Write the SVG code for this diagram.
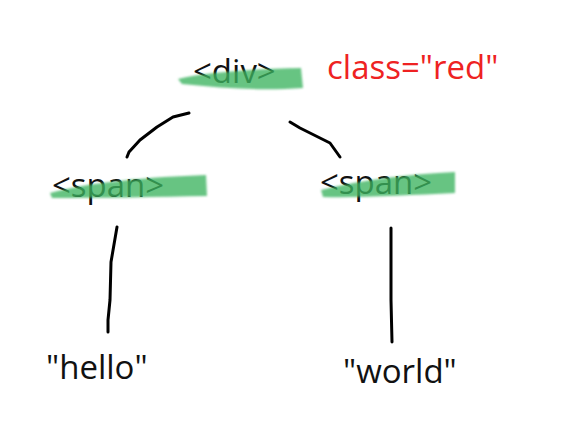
<svg xmlns="http://www.w3.org/2000/svg" width="581" height="445" viewBox="0 0 581 445">
<defs>
<filter id="soft" x="-5%" y="-30%" width="110%" height="160%"><feGaussianBlur stdDeviation="1.2"/></filter>
</defs>
<style>
.t{font-family:"Open Sans","Noto Sans",sans-serif;font-size:33px;fill:#111}
.red{font-family:"Open Sans","Noto Sans",sans-serif;font-size:33px;fill:#ee2222}
.hl{fill:#3db360;fill-opacity:0.78;filter:url(#soft)}
.c{fill:none;stroke:#000;stroke-width:3;stroke-linecap:round;stroke-linejoin:round}
</style>
<rect width="581" height="445" fill="#fff"/>
<g id="div">
<text class="t" x="193" y="83">&lt;div&gt;</text>
<path class="hl" d="M178 79 C200 73 250 69 301 68 L303 88 C260 91 220 88 182 84 Z"/>
</g>
<g id="attr"><text class="red" x="327" y="79">class="red"</text></g>
<g id="span1">
<text class="t" x="52" y="197">&lt;span&gt;</text>
<path class="hl" d="M50 193 C90 182 150 177 206 175 L207 196 C160 197 100 198 52 198 Z"/>
</g>
<g id="span2">
<text class="t" x="320" y="194">&lt;span&gt;</text>
<path class="hl" d="M321 190 C360 180 410 174 455 172 L455 193 C410 195 360 198 323 197 Z"/>
</g>
<g id="hello"><text class="t" x="46" y="379">"hello"</text></g>
<g id="world"><text class="t" x="343" y="383">"world"</text></g>
<g id="connectors">
<path class="c" d="M189 113 L173 117 L157 127 L140 140 L129 152 L127 157"/>
<path class="c" d="M290 122 L300 128 L320 138 L330 143 L340 157"/>
<path class="c" d="M117 227 L111 262 L110 300 L108 320 L108 332"/>
<path class="c" d="M391 228 L391 300 L392 342"/>
</g>
</svg>
